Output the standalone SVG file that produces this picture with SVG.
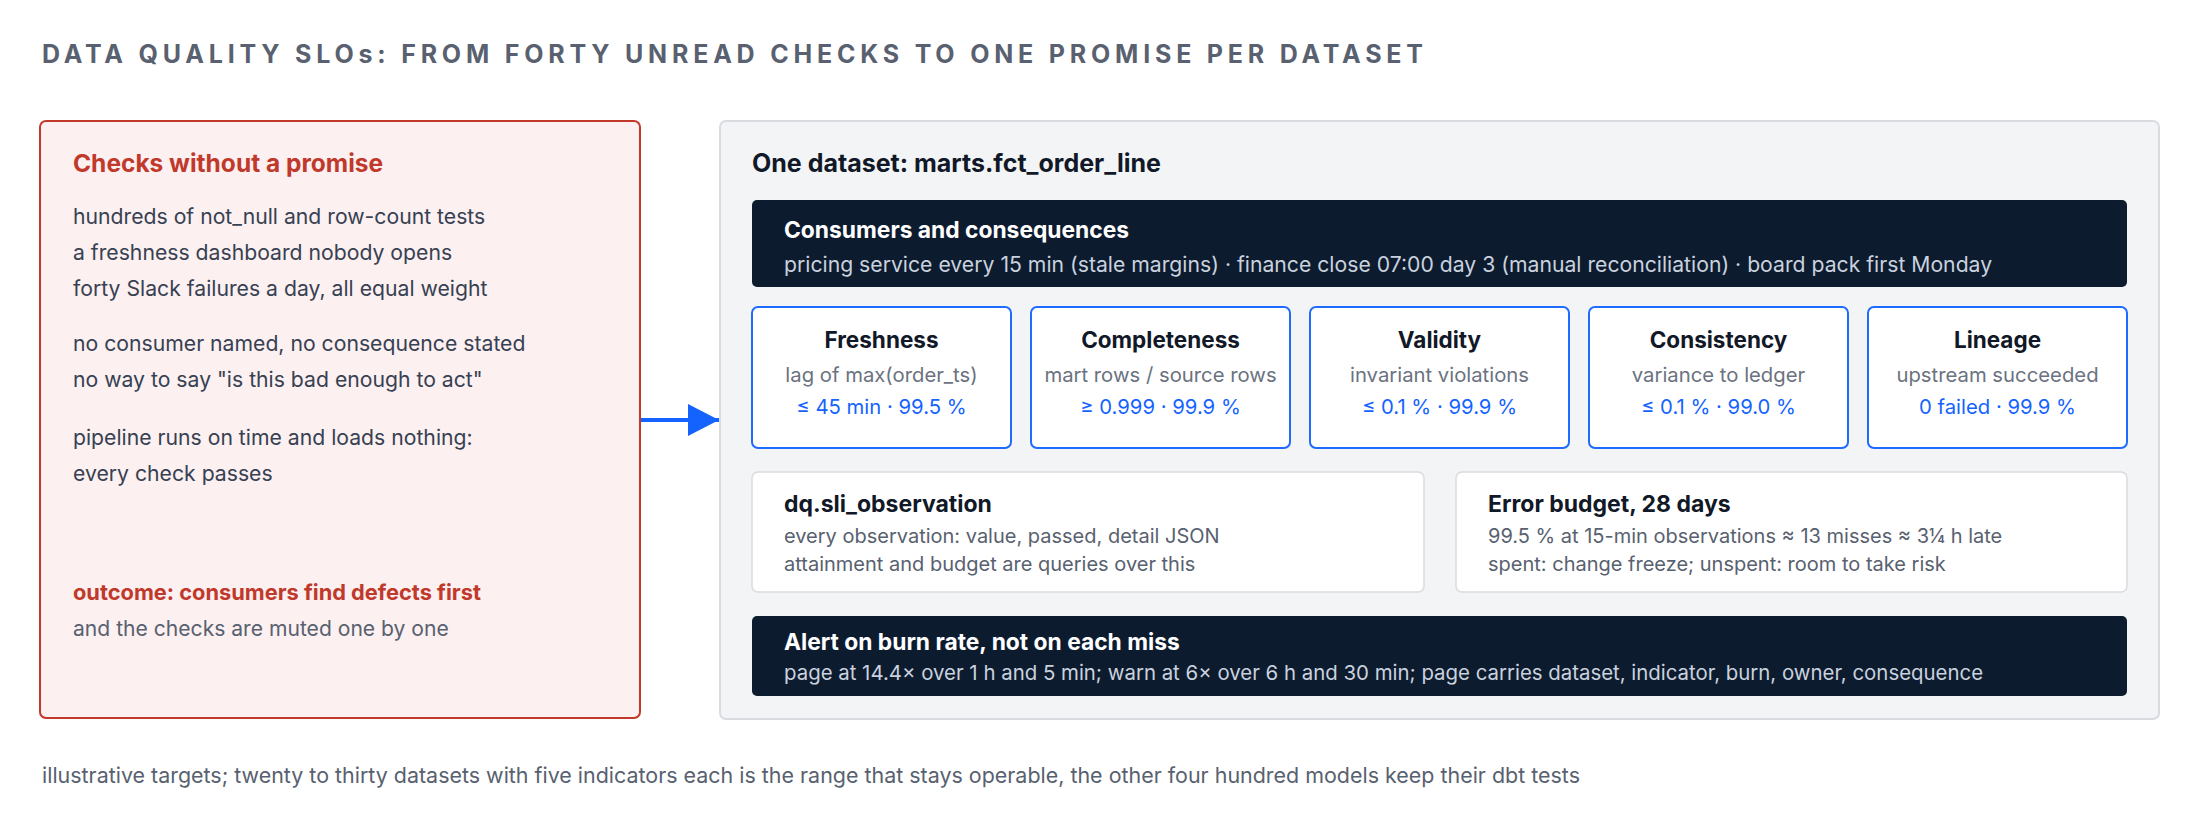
<svg xmlns="http://www.w3.org/2000/svg" width="2200" height="840" viewBox="0 0 2200 840">
<style>
text{font-family:Inter,"Noto Sans","Liberation Sans",sans-serif}
.h1{font-size:25px;font-weight:700;fill:#596170;letter-spacing:4.8px}
.rt{font-size:24.5px;font-weight:700;fill:#c0392b}
.body{font-size:21.2px;fill:#374151}
.out{font-size:21.8px;font-weight:700;fill:#c0392b}
.muted{font-size:21.1px;fill:#58616f}
.dt{font-size:25px;font-weight:700;fill:#111827}
.bt{font-size:22.8px;font-weight:700;fill:#ffffff}
.bs{font-size:21.2px;fill:#c9d2de}
.bs2{font-size:20.4px;fill:#c9d2de}
.it{font-size:22.5px;font-weight:700;fill:#111827;text-anchor:middle}
.is{font-size:20.3px;fill:#6b7280;text-anchor:middle}
.iv{font-size:20.3px;fill:#1463ff;text-anchor:middle}
.lt{font-size:23px;font-weight:700;fill:#111827}
.ls{font-size:20px;fill:#58616f}
.foot{font-size:21.45px;fill:#58616f}
.ind{fill:#ffffff;stroke:#1f6bff;stroke-width:2}
.card{fill:#ffffff;stroke:#d9dbe0;stroke-width:1.5}
.dark{fill:#0d1b2f}
</style>
<defs>
<marker id="ah" markerUnits="userSpaceOnUse" markerWidth="32" markerHeight="32" refX="31" refY="16" orient="auto">
<path d="M0,0 L31,16 L0,32 Z" fill="#1463ff"/>
</marker>
</defs>
<rect width="2200" height="840" fill="#ffffff"/>
<text class="h1" x="42" y="63">DATA QUALITY SLOs: FROM FORTY UNREAD CHECKS TO ONE PROMISE PER DATASET</text>

<g id="checks">
<rect x="40" y="121" width="600" height="597" rx="6" fill="#fcf0f1" stroke="#c0392b" stroke-width="2"/>
<text class="rt" x="73" y="172">Checks without a promise</text>
<text class="body" x="73" y="224">hundreds of not_null and row-count tests</text>
<text class="body" x="73" y="260">a freshness dashboard nobody opens</text>
<text class="body" x="73" y="296">forty Slack failures a day, all equal weight</text>
<text class="body" x="73" y="351">no consumer named, no consequence stated</text>
<text class="body" x="73" y="387">no way to say "is this bad enough to act"</text>
<text class="body" x="73" y="445">pipeline runs on time and loads nothing:</text>
<text class="body" x="73" y="481">every check passes</text>
<text class="out" x="73" y="600">outcome: consumers find defects first</text>
<text class="muted" x="73" y="636">and the checks are muted one by one</text>
</g>

<g id="connectors">
<line x1="641" y1="420" x2="719" y2="420" stroke="#1463ff" stroke-width="4" marker-end="url(#ah)"/>
</g>

<g id="dataset">
<rect x="720" y="121" width="1439" height="598" rx="6" fill="#f3f4f6" stroke="#d9dbe0" stroke-width="2"/>
<text class="dt" x="752" y="172">One dataset: marts.fct_order_line</text>
</g>

<g id="consumers">
<rect class="dark" x="752" y="200" width="1375" height="87" rx="5"/>
<text class="bt" x="784" y="238">Consumers and consequences</text>
<text class="bs" x="784" y="272">pricing service every 15 min (stale margins) · finance close 07:00 day 3 (manual reconciliation) · board pack first Monday</text>
</g>

<g id="freshness">
<rect class="ind" x="752" y="307" width="259" height="141" rx="6"/>
<text class="it" x="881.5" y="348">Freshness</text>
<text class="is" x="881.5" y="382">lag of max(order_ts)</text>
<text class="iv" x="881.5" y="414">≤ 45 min · 99.5 %</text>
</g>
<g id="completeness">
<rect class="ind" x="1031" y="307" width="259" height="141" rx="6"/>
<text class="it" x="1160.5" y="348">Completeness</text>
<text class="is" x="1160.5" y="382">mart rows / source rows</text>
<text class="iv" x="1160.5" y="414">≥ 0.999 · 99.9 %</text>
</g>
<g id="validity">
<rect class="ind" x="1310" y="307" width="259" height="141" rx="6"/>
<text class="it" x="1439.5" y="348">Validity</text>
<text class="is" x="1439.5" y="382">invariant violations</text>
<text class="iv" x="1439.5" y="414">≤ 0.1 % · 99.9 %</text>
</g>
<g id="consistency">
<rect class="ind" x="1589" y="307" width="259" height="141" rx="6"/>
<text class="it" x="1718.5" y="348">Consistency</text>
<text class="is" x="1718.5" y="382">variance to ledger</text>
<text class="iv" x="1718.5" y="414">≤ 0.1 % · 99.0 %</text>
</g>
<g id="lineage">
<rect class="ind" x="1868" y="307" width="259" height="141" rx="6"/>
<text class="it" x="1997.5" y="348">Lineage</text>
<text class="is" x="1997.5" y="382">upstream succeeded</text>
<text class="iv" x="1997.5" y="414">0 failed · 99.9 %</text>
</g>

<g id="observation">
<rect class="card" x="752" y="472" width="672" height="120" rx="6"/>
<text class="lt" x="784" y="512">dq.sli_observation</text>
<text class="ls" x="784" y="543">every observation: value, passed, detail JSON</text>
<text class="ls" x="784" y="571">attainment and budget are queries over this</text>
</g>
<g id="budget">
<rect class="card" x="1456" y="472" width="671" height="120" rx="6"/>
<text class="lt" x="1488" y="512">Error budget, 28 days</text>
<text class="ls" x="1488" y="543">99.5 % at 15-min observations ≈ 13 misses ≈ 3¼ h late</text>
<text class="ls" x="1488" y="571">spent: change freeze; unspent: room to take risk</text>
</g>

<g id="alert">
<rect class="dark" x="752" y="616" width="1375" height="80" rx="5"/>
<text class="bt" x="784" y="650">Alert on burn rate, not on each miss</text>
<text class="bs2" x="784" y="680">page at 14.4× over 1 h and 5 min; warn at 6× over 6 h and 30 min; page carries dataset, indicator, burn, owner, consequence</text>
</g>

<text class="foot" x="42" y="783">illustrative targets; twenty to thirty datasets with five indicators each is the range that stays operable, the other four hundred models keep their dbt tests</text>
</svg>
